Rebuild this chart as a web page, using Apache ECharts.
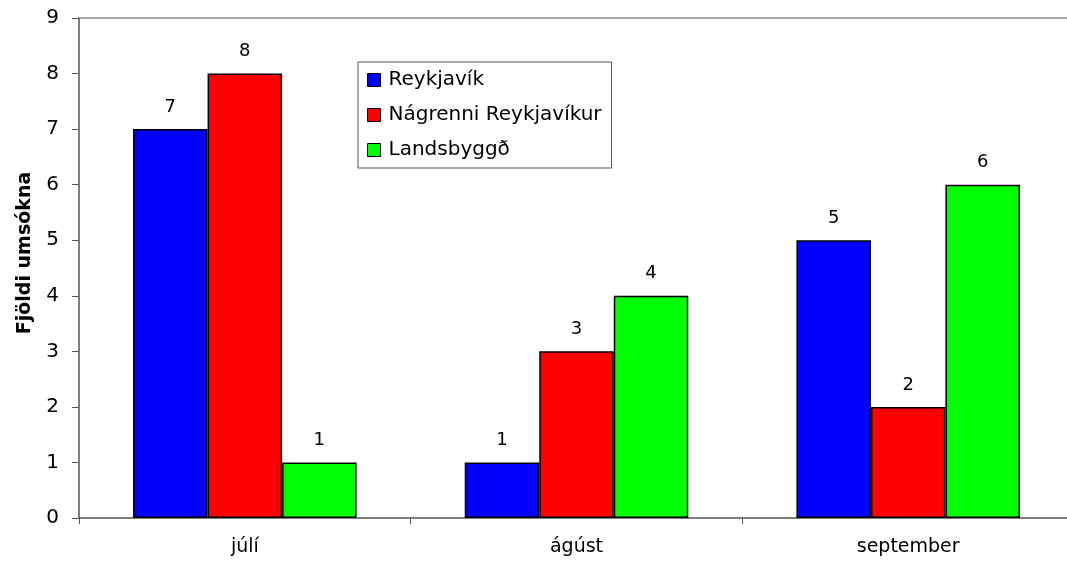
<!DOCTYPE html>
<html>
<head>
<meta charset="utf-8">
<script src="https://cdn.jsdelivr.net/npm/echarts@6/dist/echarts.min.js"></script>
<style>
  html, body { margin: 0; padding: 0; background: #fff; }
  #chart { width: 1067px; height: 562px; }
</style>
</head>
<body>
<div id="chart"></div>
<script>
// categories and series values
const months = ["júlí", "ágúst", "september"];
const reykjavik = [7, 1, 5];
const nagrenni = [8, 3, 2];
const landsbyggd = [1, 4, 6];
const yTicks = [0, 9, 1]; // min, max, step

const chart = echarts.init(document.getElementById("chart"));

const font = "DejaVu Sans, Verdana, sans-serif";

// shared bar style
const bar = (name, data, color) => ({
  name: name,
  type: "bar",
  data: data,
  barGap: "0%",
  barCategoryGap: "32.6%",
  itemStyle: { color: color, borderColor: "#000", borderWidth: 1.5 },
  label: {
    show: true,
    position: "top",
    distance: 13,
    color: "#000",
    fontSize: 18,
    fontFamily: font
  }
});

const option = {
  animation: false,
  backgroundColor: "#fff",
  // plot runs past the right edge of the picture, as in the reference
  grid: { left: 79, width: 995, top: 18, height: 500, outerBoundsMode: "none" },
  legend: {
    orient: "vertical",
    left: 358,
    top: 62,
    padding: [8, 10, 8, 9],
    itemGap: 15,
    itemWidth: 13,
    itemHeight: 13,
    icon: "rect",
    borderColor: "#555",
    borderWidth: 1,
    backgroundColor: "#fff",
    textStyle: { fontSize: 20, color: "#000", fontFamily: font, padding: [0, 0, 0, 3] },
    itemStyle: { borderColor: "#000", borderWidth: 1 },
    data: ["Reykjavík", "Nágrenni Reykjavíkur", "Landsbyggð"]
  },
  xAxis: [
    {
      type: "category",
      data: months,
      axisLine: { lineStyle: { color: "#555", width: 1.5 } },
      axisTick: { show: true, length: 6, lineStyle: { color: "#555" } },
      axisLabel: { fontSize: 19, color: "#000", margin: 20, fontFamily: font }
    },
    {
      type: "category",
      position: "top",
      data: months,
      axisLine: { show: true, lineStyle: { color: "#888", width: 1.5 } },
      axisTick: { show: false },
      axisLabel: { show: false }
    }
  ],
  yAxis: {
    type: "value",
    min: yTicks[0],
    max: yTicks[1],
    interval: yTicks[2],
    name: "Fjöldi umsókna",
    nameLocation: "middle",
    nameGap: 44,
    nameTextStyle: {
      fontSize: 19, fontWeight: "bold", color: "#000", fontFamily: font,
      padding: [0, 0, 0, 30]
    },
    axisLine: { show: true, lineStyle: { color: "#555", width: 1.5 } },
    axisTick: { show: true, length: 7, lineStyle: { color: "#555" } },
    axisLabel: { fontSize: 20, color: "#000", margin: 20, fontFamily: font },
    splitLine: { show: false }
  },
  series: [
    bar("Reykjavík", reykjavik, "#0000ff"),
    bar("Nágrenni Reykjavíkur", nagrenni, "#ff0000"),
    bar("Landsbyggð", landsbyggd, "#00ff00")
  ]
};

chart.setOption(option);
</script>
</body>
</html>
